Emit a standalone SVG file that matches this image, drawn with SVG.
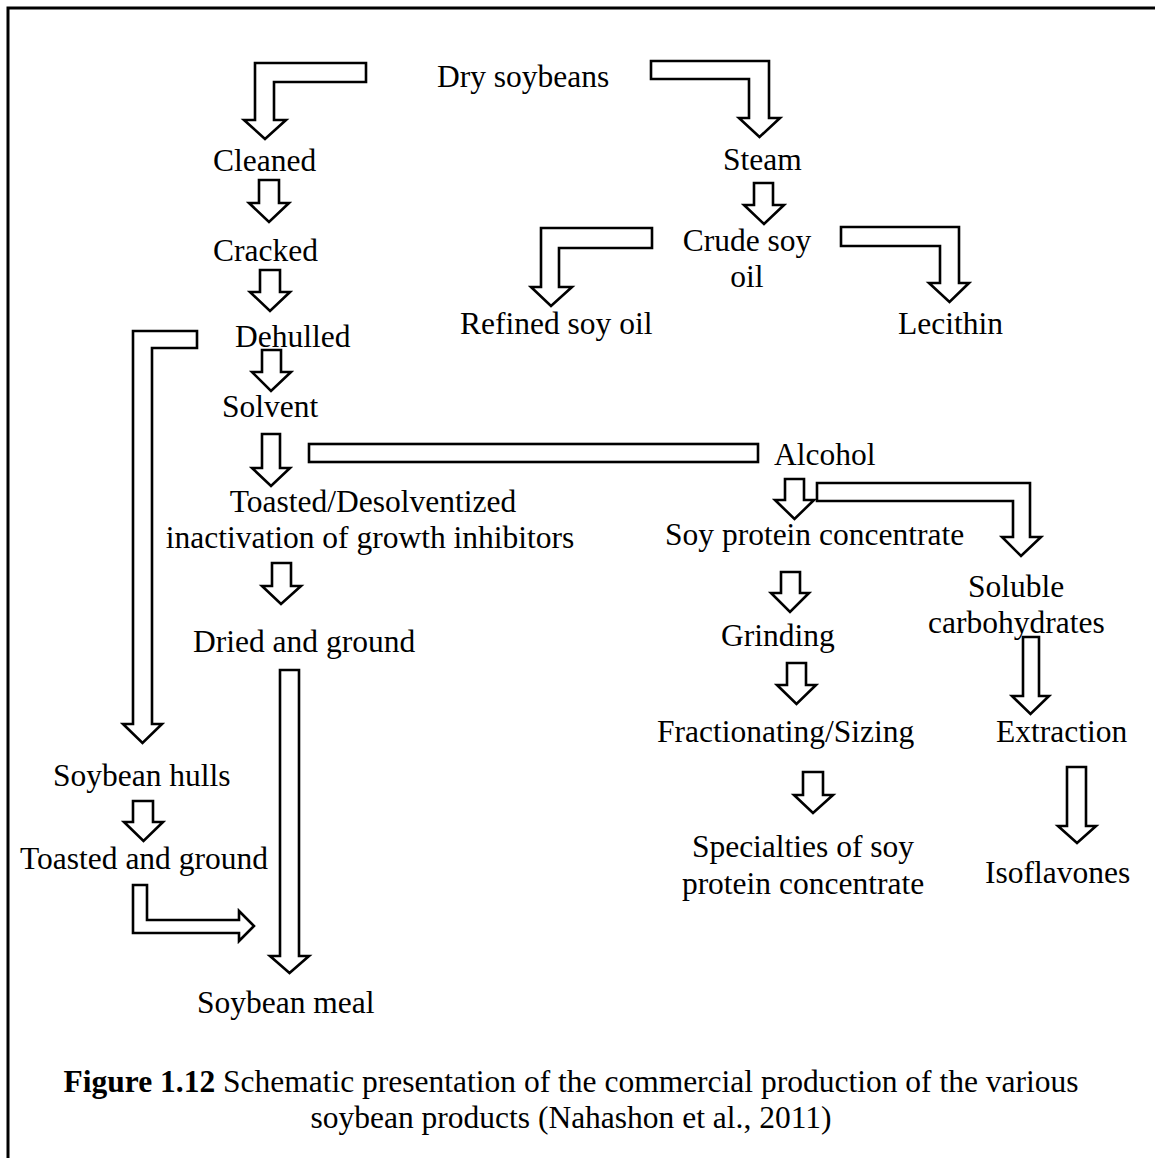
<svg xmlns="http://www.w3.org/2000/svg" width="1155" height="1158" viewBox="0 0 1155 1158">
<style>
.t{font-family:"Liberation Serif","Times New Roman",serif;font-size:31.5px;fill:#000}
.m{text-anchor:middle}
.a{fill:#fff;stroke:#000;stroke-width:2.6;stroke-linejoin:miter}
.b{font-weight:bold}
</style>
<rect x="0" y="0" width="1155" height="1158" fill="#fff"/>
<rect x="8" y="8" width="1200" height="1200" fill="none" stroke="#000" stroke-width="3"/>
<g id="connectors">
<polygon class="a" points="366,63 255,63 255,120 244,120 265,139 286,120 274,120 274,82 366,82"/>
<polygon class="a" points="651,61 769,61 769,118 780,118 759.5,137 739,118 749,118 749,79 651,79"/>
<polygon class="a" points="259,180 279,180 279,203 289,203 269,222 249,203 259,203"/>
<polygon class="a" points="260,270 280,270 280,292 290,292 270,311 250,292 260,292"/>
<polygon class="a" points="754,183 773,183 773,205 784,205 764,224 744,205 754,205"/>
<polygon class="a" points="652,228 541,228 541,287 531,287 551,306 572,287 559,287 559,248 652,248"/>
<polygon class="a" points="841,227 959,227 959,283 969,283 949.5,302 929,283 940,283 940,246 841,246"/>
<polygon class="a" points="262,350 281,350 281,372 291,372 271,391 252,372 262,372"/>
<polygon class="a" points="262,434 280,434 280,468 290,468 271,486 252,468 262,468"/>
<rect class="a" x="309" y="444" width="449" height="18"/>
<polygon class="a" points="197,331 133,331 133,724 123,724 142.5,743 162,724 152,724 152,348 197,348"/>
<polygon class="a" points="272,563 291,563 291,586 301,586 281,604 262,586 272,586"/>
<polygon class="a" points="280,670 299,670 299,956 309,956 289.5,973 270,956 280,956"/>
<polygon class="a" points="133,801 153,801 153,822 163,822 143.5,841 124,822 133,822"/>
<polygon class="a" points="133,885 147,885 147,920 239,920 239,911 254,926 239,941 239,933 133,933"/>
<polygon class="a" points="785,479 804,479 804,500 814,500 794.5,519 775,500 785,500"/>
<polygon class="a" points="817,483 1030,483 1030,537 1041,537 1021,556 1002,537 1013,537 1013,501 817,501"/>
<polygon class="a" points="781,572 800,572 800,593 809,593 790,612 771,593 781,593"/>
<polygon class="a" points="787,663 806,663 806,685 816,685 796.5,704 777,685 787,685"/>
<polygon class="a" points="803,772 823,772 823,795 833,795 813,813 794,795 803,795"/>
<polygon class="a" points="1023,637 1039,637 1039,696 1049,696 1030.5,714 1012,696 1023,696"/>
<polygon class="a" points="1067,767 1086,767 1086,826 1096,826 1077,843 1058,826 1067,826"/>
</g>
<g id="dry-soybeans"><text class="t" x="437" y="87">Dry soybeans</text></g>
<g id="cleaned"><text class="t" x="213" y="171">Cleaned</text></g>
<g id="steam"><text class="t" x="723" y="170">Steam</text></g>
<g id="cracked"><text class="t" x="213" y="261">Cracked</text></g>
<g id="crude-soy-oil"><text class="t m" x="747" y="251">Crude soy</text><text class="t m" x="747" y="287">oil</text></g>
<g id="refined-soy-oil"><text class="t" x="460" y="334">Refined soy oil</text></g>
<g id="lecithin"><text class="t" x="898" y="334">Lecithin</text></g>
<g id="dehulled"><text class="t" x="235" y="347">Dehulled</text></g>
<g id="solvent"><text class="t" x="222" y="417">Solvent</text></g>
<g id="alcohol"><text class="t" x="774" y="465">Alcohol</text></g>
<g id="toasted-desolventized"><text class="t m" x="373" y="512">Toasted/Desolventized</text><text class="t m" x="370" y="548">inactivation of growth inhibitors</text></g>
<g id="soy-protein-concentrate"><text class="t" x="665" y="545">Soy protein concentrate</text></g>
<g id="soluble-carbohydrates"><text class="t" x="968" y="597">Soluble</text><text class="t" x="928" y="633">carbohydrates</text></g>
<g id="grinding"><text class="t" x="721" y="646">Grinding</text></g>
<g id="dried-and-ground"><text class="t" x="193" y="652">Dried and ground</text></g>
<g id="fractionating-sizing"><text class="t" x="657" y="742">Fractionating/Sizing</text></g>
<g id="extraction"><text class="t" x="996" y="742">Extraction</text></g>
<g id="soybean-hulls"><text class="t" x="53" y="786">Soybean hulls</text></g>
<g id="specialties"><text class="t m" x="803" y="857">Specialties of soy</text><text class="t m" x="803" y="894">protein concentrate</text></g>
<g id="isoflavones"><text class="t" x="985" y="883">Isoflavones</text></g>
<g id="toasted-and-ground"><text class="t" x="20" y="869">Toasted and ground</text></g>
<g id="soybean-meal"><text class="t" x="197" y="1013">Soybean meal</text></g>
<g id="caption">
<text class="t m" x="571" y="1092"><tspan class="b">Figure 1.12</tspan> Schematic presentation of the commercial production of the various</text>
<text class="t m" x="571" y="1128">soybean products (Nahashon et al., 2011)</text>
</g>
</svg>
